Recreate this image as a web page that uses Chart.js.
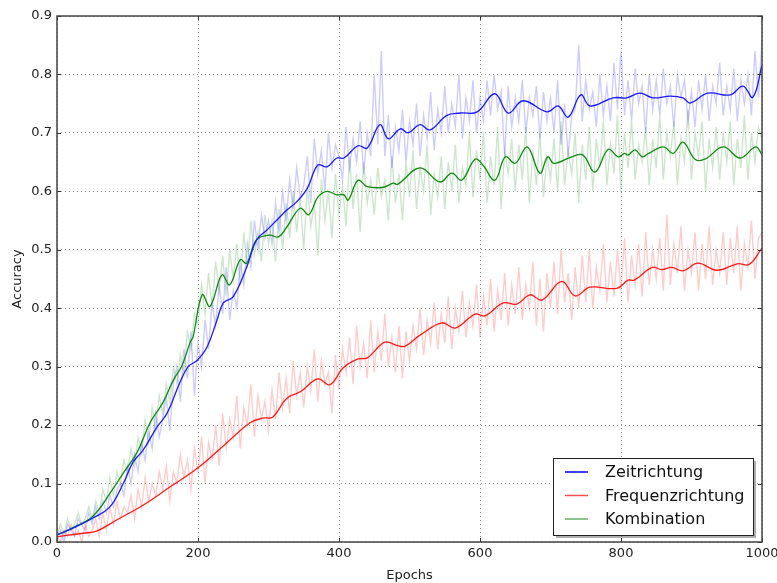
<!DOCTYPE html>
<html>
<head>
<meta charset="utf-8">
<script src="https://cdn.jsdelivr.net/npm/chart.js@4.4.1/dist/chart.umd.min.js"></script>
<style>
  html, body { margin: 0; padding: 0; background: #fff; }
  #wrap { width: 777px; height: 583px; position: relative; }
</style>
</head>
<body>
<div id="wrap"><canvas id="chart"></canvas></div>
<script>
// Geglaettete Kurven (Epoche, Accuracy)
const zeitEpochs = [0,25,51,75,94,108,122,142,156,174,186,199,213,227,236,250,269,283,298,312,326,340,355,370,383,397,407,427,440,458,470,487,498,515,529,553,572,596,621,640,661,695,711,725,743,756,789,808,827,845,870,888,898,923,955,973,987,1000];
const zeitAcc = [0.012,0.025,0.041,0.06,0.10,0.137,0.157,0.197,0.22,0.272,0.30,0.311,0.334,0.38,0.409,0.42,0.47,0.517,0.534,0.551,0.568,0.582,0.605,0.645,0.642,0.657,0.657,0.678,0.674,0.714,0.69,0.707,0.70,0.714,0.705,0.73,0.734,0.736,0.767,0.734,0.755,0.736,0.746,0.727,0.765,0.746,0.76,0.76,0.768,0.76,0.763,0.76,0.751,0.768,0.765,0.78,0.761,0.816];

const freqEpochs = [0,37,57,85,122,160,199,241,274,292,306,326,345,370,387,406,426,440,465,483,494,515,546,565,593,607,633,652,671,688,716,735,756,794,810,819,844,858,872,888,909,936,965,982,1000];
const freqAcc = [0.009,0.015,0.019,0.038,0.063,0.094,0.126,0.17,0.204,0.212,0.214,0.246,0.257,0.279,0.269,0.298,0.313,0.315,0.342,0.336,0.335,0.354,0.375,0.366,0.39,0.387,0.409,0.407,0.423,0.414,0.446,0.421,0.436,0.434,0.448,0.448,0.47,0.466,0.47,0.464,0.477,0.465,0.476,0.475,0.503];

const kombiEpochs = [0,25,51,80,94,113,132,150,165,177,189,193,206,217,234,245,260,269,283,302,314,326,345,357,370,383,397,407,413,427,440,463,477,483,515,543,560,574,593,604,621,636,650,667,685,696,705,730,746,763,782,796,805,810,820,830,838,860,874,888,905,919,945,969,991,1000];
const kombiAcc = [0.012,0.026,0.044,0.092,0.118,0.152,0.204,0.238,0.277,0.301,0.342,0.351,0.423,0.403,0.457,0.44,0.483,0.477,0.517,0.525,0.522,0.539,0.571,0.56,0.59,0.60,0.594,0.594,0.585,0.619,0.608,0.607,0.614,0.612,0.64,0.616,0.631,0.619,0.655,0.645,0.619,0.659,0.648,0.676,0.631,0.659,0.648,0.659,0.662,0.633,0.672,0.659,0.665,0.662,0.671,0.659,0.664,0.676,0.665,0.684,0.655,0.655,0.676,0.657,0.676,0.663];

const rawStep = 5;
const zeitRaw = [
  0.01,0.02,0.00,0.03,0.02,0.01,0.04,0.03,0.02,0.05,
  0.03,0.06,0.04,0.07,0.05,0.08,0.06,0.09,0.10,0.08,
  0.13,0.10,0.15,0.12,0.17,0.14,0.19,0.16,0.22,0.18,
  0.21,0.25,0.19,0.27,0.30,0.24,0.33,0.28,0.36,0.25,
  0.34,0.30,0.38,0.33,0.41,0.37,0.44,0.39,0.47,0.38,
  0.43,0.40,0.48,0.44,0.51,0.47,0.55,0.50,0.56,0.52,
  0.55,0.51,0.58,0.53,0.60,0.55,0.62,0.57,0.64,0.59,
  0.61,0.66,0.58,0.69,0.63,0.67,0.60,0.70,0.64,0.68,
  0.66,0.62,0.71,0.64,0.69,0.65,0.72,0.63,0.70,0.66,
  0.80,0.68,0.84,0.66,0.73,0.64,0.71,0.67,0.74,0.65,
  0.72,0.68,0.75,0.66,0.73,0.69,0.77,0.67,0.74,0.70,
  0.78,0.70,0.75,0.71,0.80,0.69,0.76,0.72,0.79,0.70,
  0.76,0.72,0.79,0.73,0.80,0.74,0.77,0.66,0.78,0.71,
  0.76,0.72,0.79,0.70,0.76,0.73,0.78,0.69,0.77,0.72,
  0.76,0.70,0.79,0.68,0.75,0.66,0.73,0.74,0.85,0.72,
  0.79,0.74,0.77,0.71,0.80,0.73,0.78,0.72,0.82,0.74,
  0.84,0.73,0.79,0.72,0.81,0.75,0.78,0.70,0.80,0.74,
  0.79,0.73,0.81,0.75,0.78,0.71,0.80,0.76,0.79,0.72,
  0.77,0.71,0.79,0.74,0.80,0.72,0.78,0.75,0.82,0.73,
  0.78,0.74,0.81,0.72,0.79,0.75,0.80,0.73,0.84,0.76,
  0.86
];
const freqRaw = [
  0.01,0.00,0.02,0.01,0.03,0.01,0.02,0.00,0.03,0.01,
  0.02,0.04,0.01,0.05,0.02,0.06,0.03,0.07,0.04,0.06,
  0.05,0.08,0.04,0.09,0.06,0.11,0.07,0.10,0.08,0.12,
  0.09,0.13,0.07,0.12,0.10,0.15,0.11,0.14,0.09,0.16,
  0.12,0.18,0.10,0.17,0.14,0.20,0.13,0.22,0.16,0.21,
  0.18,0.25,0.16,0.23,0.20,0.27,0.18,0.25,0.21,0.24,
  0.19,0.26,0.21,0.29,0.23,0.28,0.22,0.31,0.25,0.29,
  0.23,0.30,0.26,0.33,0.24,0.31,0.27,0.29,0.22,0.32,
  0.26,0.33,0.29,0.35,0.27,0.37,0.30,0.34,0.28,0.38,
  0.29,0.36,0.31,0.39,0.30,0.35,0.29,0.37,0.28,0.36,
  0.31,0.37,0.33,0.40,0.32,0.38,0.34,0.41,0.33,0.39,
  0.34,0.42,0.33,0.40,0.36,0.43,0.35,0.41,0.37,0.44,
  0.35,0.42,0.37,0.45,0.36,0.43,0.38,0.46,0.37,0.44,
  0.39,0.47,0.38,0.44,0.40,0.48,0.37,0.45,0.36,0.46,
  0.40,0.48,0.39,0.50,0.41,0.46,0.38,0.47,0.40,0.49,
  0.41,0.50,0.40,0.47,0.43,0.51,0.41,0.48,0.42,0.50,
  0.43,0.52,0.41,0.49,0.44,0.51,0.42,0.53,0.44,0.50,
  0.45,0.52,0.43,0.56,0.44,0.51,0.46,0.54,0.43,0.50,
  0.46,0.53,0.43,0.51,0.45,0.54,0.44,0.50,0.46,0.53,
  0.44,0.52,0.46,0.54,0.43,0.51,0.47,0.55,0.45,0.52,
  0.53
];
const kombiRaw = [
  0.01,0.03,0.01,0.04,0.02,0.03,0.05,0.03,0.04,0.06,
  0.04,0.07,0.05,0.09,0.07,0.11,0.08,0.12,0.10,0.14,
  0.12,0.16,0.13,0.18,0.15,0.21,0.17,0.23,0.19,0.25,
  0.22,0.27,0.24,0.30,0.27,0.32,0.29,0.36,0.33,0.39,
  0.37,0.44,0.39,0.46,0.40,0.48,0.43,0.49,0.42,0.50,
  0.45,0.51,0.44,0.53,0.47,0.55,0.49,0.53,0.48,0.56,
  0.51,0.55,0.48,0.57,0.50,0.58,0.52,0.60,0.53,0.59,
  0.50,0.61,0.54,0.58,0.49,0.62,0.55,0.60,0.52,0.63,
  0.56,0.61,0.54,0.66,0.57,0.63,0.53,0.65,0.58,0.62,
  0.56,0.64,0.59,0.62,0.55,0.66,0.58,0.63,0.55,0.65,
  0.59,0.67,0.57,0.64,0.60,0.68,0.56,0.63,0.59,0.66,
  0.57,0.65,0.60,0.68,0.58,0.64,0.61,0.70,0.59,0.67,
  0.62,0.70,0.58,0.66,0.61,0.71,0.57,0.67,0.63,0.69,
  0.60,0.68,0.62,0.71,0.58,0.67,0.61,0.70,0.59,0.66,
  0.62,0.69,0.60,0.72,0.61,0.67,0.63,0.70,0.58,0.68,
  0.62,0.71,0.60,0.69,0.64,0.72,0.61,0.68,0.63,0.73,
  0.60,0.70,0.64,0.72,0.62,0.68,0.65,0.71,0.61,0.69,
  0.64,0.73,0.62,0.70,0.66,0.72,0.61,0.69,0.65,0.74,
  0.62,0.70,0.66,0.72,0.60,0.69,0.64,0.71,0.62,0.70,
  0.65,0.72,0.61,0.69,0.64,0.73,0.62,0.70,0.65,0.71,
  0.69
];

const legendLabels = ['Zeitrichtung', 'Frequenzrichtung', 'Kombination'];
const legendColors = ['#0000ff', 'rgba(255,0,0,0.7)', 'rgba(0,128,0,0.6)'];

const FONT = "'DejaVu Sans', sans-serif";

function toPoints(xs, ys) {
    return xs.map((x, i) => ({ x: x, y: ys[i] }));
}
function rawPoints(ys) {
    return ys.map((y, i) => ({ x: i * rawStep, y: y }));
}

// Rahmen mit nach innen zeigenden Ticks (wie matplotlib classic)
const framePlugin = {
    id: 'frame',
    afterDatasetsDraw(chart) {
        const { ctx, chartArea: a, scales } = chart;
        ctx.save();
        ctx.strokeStyle = '#333';
        ctx.lineWidth = 1;
        ctx.beginPath();
        scales.x.ticks.forEach(t => {
            const px = Math.round(scales.x.getPixelForValue(t.value)) + 0.5;
            ctx.moveTo(px, a.bottom); ctx.lineTo(px, a.bottom - 4);
            ctx.moveTo(px, a.top); ctx.lineTo(px, a.top + 4);
        });
        scales.y.ticks.forEach(t => {
            const py = Math.round(scales.y.getPixelForValue(t.value)) + 0.5;
            ctx.moveTo(a.left, py); ctx.lineTo(a.left + 4, py);
            ctx.moveTo(a.right, py); ctx.lineTo(a.right - 4, py);
        });
        ctx.stroke();
        ctx.lineWidth = 1.5;
        ctx.strokeStyle = '#444';
        ctx.strokeRect(a.left, a.top, a.right - a.left, a.bottom - a.top);
        ctx.restore();
    }
};

// Legende unten rechts mit Schatten
const legendPlugin = {
    id: 'boxLegend',
    afterDraw(chart) {
        const ctx = chart.ctx;
        const bx = 553, by = 458, bw = 200, bh = 77;
        ctx.save();
        ctx.fillStyle = 'rgba(120,120,120,0.6)';
        ctx.fillRect(bx + 3, by + 3, bw, bh);
        ctx.fillStyle = '#fff';
        ctx.fillRect(bx, by, bw, bh);
        ctx.strokeStyle = '#222';
        ctx.lineWidth = 1;
        ctx.strokeRect(bx + 0.5, by + 0.5, bw, bh);
        ctx.font = '16px ' + FONT;
        ctx.textBaseline = 'middle';
        legendLabels.forEach((lab, i) => {
            const y = by + 14 + i * 23.5;
            ctx.strokeStyle = legendColors[i];
            ctx.lineWidth = 1.5;
            ctx.beginPath();
            ctx.moveTo(565, y); ctx.lineTo(588, y);
            ctx.stroke();
            ctx.fillStyle = '#111';
            ctx.fillText(lab, 605, y + 1);
        });
        ctx.restore();
    }
};

const rawStyle = color => ({
    borderColor: color,
    borderWidth: 1.4,
    pointRadius: 0,
    tension: 0,
    order: 2
});
const smoothStyle = color => ({
    borderColor: color,
    borderWidth: 1.3,
    pointRadius: 0,
    tension: 0.4,
    order: 1
});

new Chart(document.getElementById('chart'), {
    type: 'line',
    data: {
        datasets: [
            { label: 'zeitRaw', data: rawPoints(zeitRaw), ...rawStyle('rgba(0,0,255,0.2)') },
            { label: 'kombiRaw', data: rawPoints(kombiRaw), ...rawStyle('rgba(0,128,0,0.2)') },
            { label: 'freqRaw', data: rawPoints(freqRaw), ...rawStyle('rgba(255,0,0,0.2)') },
            { label: legendLabels[0], data: toPoints(zeitEpochs, zeitAcc), ...smoothStyle('#1a1aff') },
            { label: legendLabels[1], data: toPoints(freqEpochs, freqAcc), ...smoothStyle('#ff1a1a') },
            { label: legendLabels[2], data: toPoints(kombiEpochs, kombiAcc), ...smoothStyle('#108a10') }
        ]
    },
    options: {
        responsive: true,
        maintainAspectRatio: false,
        animation: false,
        layout: { padding: { top: 16, right: 15, left: 0, bottom: 0 } },
        plugins: {
            legend: { display: false },
            tooltip: { enabled: false }
        },
        scales: {
            x: {
                type: 'linear',
                min: 0,
                max: 1000,
                ticks: {
                    stepSize: 200,
                    padding: 4,
                    maxRotation: 0,
                    color: '#222',
                    font: { family: FONT, size: 13 },
                    callback: v => String(v)
                },
                grid: { color: '#777', lineWidth: 0.8, drawTicks: false },
                border: { display: false, dash: [1, 3] },
                title: {
                    display: true,
                    text: 'Epochs',
                    color: '#222',
                    font: { family: FONT, size: 13 },
                    padding: { top: 0, bottom: 0 }
                },
                afterFit(scale) {
                    scale.height = 41;
                    scale.paddingLeft = 0;
                    scale.paddingRight = 0;
                }
            },
            y: {
                min: 0,
                max: 0.9,
                ticks: {
                    stepSize: 0.1,
                    padding: 5,
                    color: '#222',
                    font: { family: FONT, size: 13 },
                    callback: v => v.toFixed(1)
                },
                grid: { color: '#777', lineWidth: 0.8, drawTicks: false },
                border: { display: false, dash: [1, 3] },
                title: {
                    display: true,
                    text: 'Accuracy',
                    color: '#222',
                    font: { family: FONT, size: 13 },
                    padding: { top: 10, bottom: 0 }
                },
                afterFit(scale) {
                    scale.width = 57;
                    scale.paddingTop = 0;
                    scale.paddingBottom = 0;
                }
            }
        }
    },
    plugins: [framePlugin, legendPlugin]
});
</script>
</body>
</html>
